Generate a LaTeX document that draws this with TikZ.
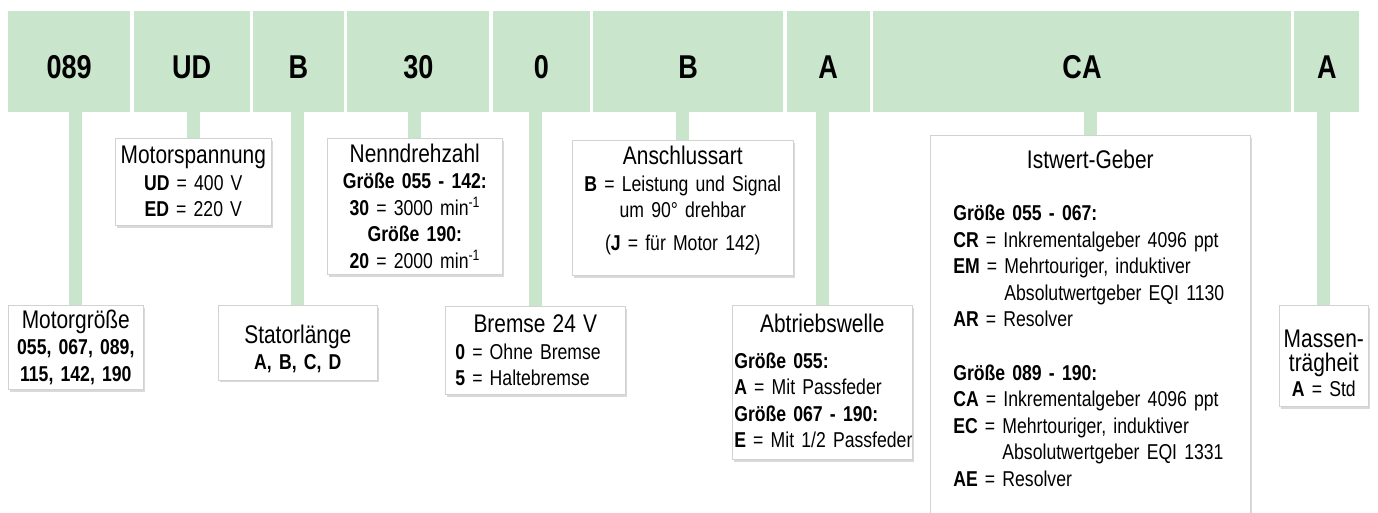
\documentclass[tikz,border=0pt]{standalone}
\usepackage{fontspec}
\setmainfont{Liberation Sans}[FakeStretch=0.82, WordSpace=0.8]
\usepackage{xcolor}
\usetikzlibrary{positioning,shadows}
\definecolor{bargreen}{RGB}{201,229,204}
\newcommand{\ttl}{\fontsize{25.5}{26.5}\selectfont}
\newcommand{\bdy}{\fontsize{21.5}{26.5}\selectfont}

\begin{document}
\begin{tikzpicture}[x=1pt, y=-1pt,
	cell/.style={fill=bargreen, minimum height=101pt, inner sep=0pt, anchor=north west, text height=33pt, text depth=0pt,
		font=\fontsize{33}{33}\selectfont\bfseries},
	infobox/.style={draw=gray!35, line width=0.6pt, fill=white, anchor=north west, inner sep=0pt, align=center, font=\bdy,
		drop shadow={shadow xshift=2pt, shadow yshift=-2.5pt, opacity=0.3}},
	conn/.style={draw=bargreen, line width=13pt}]
	\useasboundingbox (0,0) rectangle (1378,513);
	
	\node[cell, minimum width=122pt] (c1) at (8,11)      {089};
	\node[cell, minimum width=116pt, right=3pt of c1] (c2) {UD};
	\node[cell, minimum width=91pt,  right=3pt of c2] (c3) {B};
	\node[cell, minimum width=142pt, right=3pt of c3] (c4) {30};
	\node[cell, minimum width=97pt,  right=3pt of c4] (c5) {0};
	\node[cell, minimum width=190pt, right=3pt of c5] (c6) {B};
	\node[cell, minimum width=83pt,  right=3pt of c6] (c7) {A};
	\node[cell, minimum width=418pt, right=3pt of c7] (c8) {CA};
	\node[cell, minimum width=65pt,  right=3pt of c8] (c9) {A};
	
	\node[infobox, minimum width=135pt, text width=135pt, minimum height=84pt] (mg) at (8,305)
		{{\ttl Motorgröße}\\ \textbf{055, 067, 089,}\\ \textbf{115, 142, 190}};
	\node[infobox, minimum width=156pt, text width=156pt, minimum height=87pt] (ms) at (115,138)
		{{\ttl Motorspannung}\\ \textbf{UD} = 400 V\\ \textbf{ED} = 220 V};
	\node[infobox, text width=159pt, inner ysep=4pt] (sl) at (218,305)
		{{\ttl\rule{0pt}{34pt}Statorlänge}\\ \textbf{A, B, C, D}\rule[-6pt]{0pt}{6pt}};
	\node[infobox, minimum width=175pt, text width=175pt, minimum height=136pt] (nd) at (327,138)
		{{\ttl Nenndrehzahl}\\ \textbf{Größe 055 - 142:}\\ \textbf{30} = 3000 min\textsuperscript{-1}\\
		 \textbf{Größe 190:}\\ \textbf{20} = 2000 min\textsuperscript{-1}};
	\node[infobox, align=left, inner xsep=10pt, text width=160pt, minimum height=88pt] (br) at (445,306)
		{{\centering\ttl Bremse 24 V\par}\textbf{0} = Ohne Bremse\\ \textbf{5} = Haltebremse};
	\node[infobox, text width=221pt, inner ysep=6pt] (as) at (572,140)
		{{\ttl Anschlussart}\\ \textbf{B} = Leistung und Signal\\ um 90° drehbar\\[6pt]
		 (\textbf{J} = für Motor 142)\rule[-19pt]{0pt}{19pt}};
	\node[infobox, align=left, inner xsep=2pt, inner ysep=9pt, text width=176pt] (ab) at (732,305)
		{{\centering\ttl Abtriebswelle\par}\vspace{9pt}\textbf{Größe 055:}\\ \textbf{A} = Mit Passfeder\\
		 \textbf{Größe 067 - 190:}\\ \mbox{\textbf{E} = Mit 1/2 Passfeder}\rule[-3pt]{0pt}{3pt}};
	\node[infobox, align=left, inner xsep=23pt, inner ysep=14.5pt, text width=274pt] (ig) at (930,135)
		{{\centering\ttl Istwert-Geber\par}\vspace{26pt}\textbf{Größe 055 - 067:}\\
		 \textbf{CR} = Inkrementalgeber 4096 ppt\\
		 \textbf{EM} = Mehrtouriger, induktiver\\
		 \hphantom{\textbf{EM} = }Absolutwertgeber EQI 1130\\
		 \textbf{AR} = Resolver\par\vspace{27pt}
		 \textbf{Größe 089 - 190:}\\
		 \textbf{CA} = Inkrementalgeber 4096 ppt\\
		 \textbf{EC} = Mehrtouriger, induktiver\\
		 \hphantom{\textbf{EC} = }Absolutwertgeber EQI 1331\\
		 \textbf{AE} = Resolver\rule[-60pt]{0pt}{60pt}};
	\node[infobox, text width=89pt, inner ysep=5pt, font=\fontsize{21.5}{24.5}\selectfont] (mt) at (1279,305)
		{{\fontsize{25.5}{24.5}\selectfont\rule{0pt}{37pt}Massen-}\\ {\fontsize{25.5}{24.5}\selectfont trägheit}\\
		 \textbf{A} = Std\rule[-5pt]{0pt}{5pt}};
	
	\draw[conn] (mg.north) -- (mg.north |- c1.south);
	\draw[conn] (ms.north) -- (ms.north |- c2.south);
	\draw[conn] (sl.north) -- (sl.north |- c3.south);
	\draw[conn] (nd.north) -- (nd.north |- c4.south);
	\draw[conn] (br.north) -- (br.north |- c5.south);
	\draw[conn] (as.north) -- (as.north |- c6.south);
	\draw[conn] (ab.north) -- (ab.north |- c7.south);
	\draw[conn] (ig.north) -- (ig.north |- c8.south);
	\draw[conn] (mt.north) -- (mt.north |- c9.south);
\end{tikzpicture}
\end{document}
